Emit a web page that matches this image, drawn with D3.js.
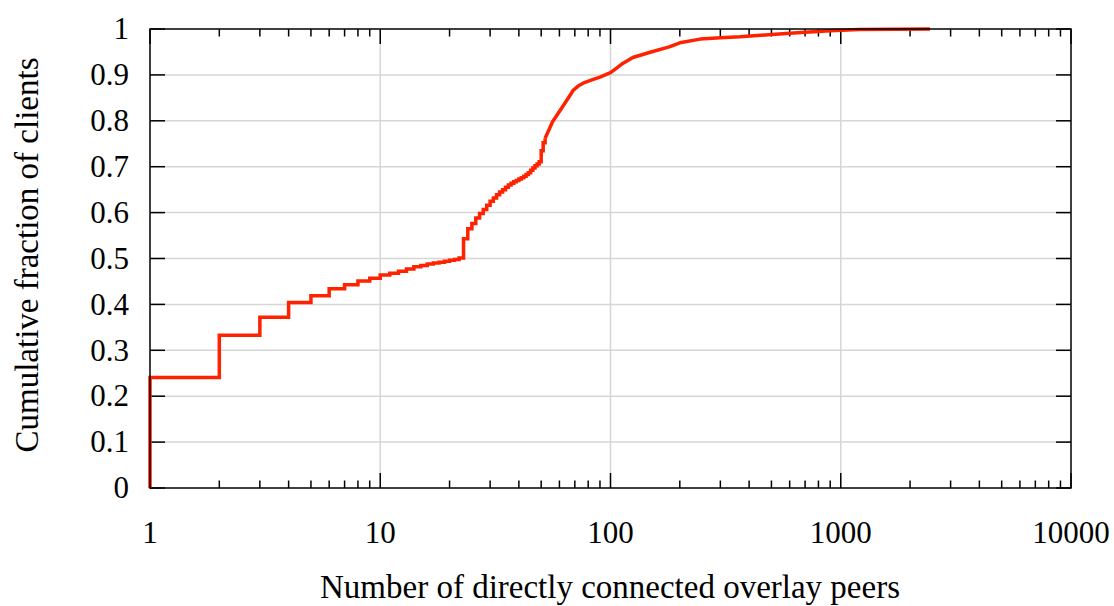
<!DOCTYPE html>
<html><head><meta charset="utf-8">
<script src="https://cdn.jsdelivr.net/npm/d3@7"></script>
<style>body{margin:0;background:#fff}svg{display:block}</style>
</head><body><svg id="c" width="1114" height="606"></svg>
<script>
// Stepped part of the CDF: [peers, cumulative fraction]
const stepData = [
  [1,0],[1,0.241],[2,0.333],[3,0.372],[4,0.404],[5,0.419],[6,0.434],[7,0.443],[8,0.451],[9,0.457],
  [10,0.464],[11,0.468],[12,0.472],[13,0.477],[14,0.482],[15,0.485],[16,0.488],[17,0.490],[18,0.492],
  [19,0.494],[20,0.496],[21,0.498],[22,0.501],[23,0.543],[24,0.565],[25,0.576],[26,0.588],[27,0.598],
  [28,0.607],[29,0.616],[30,0.625],[31,0.632],[32,0.639],[33,0.645],[34,0.650],[35,0.655],[36,0.660],
  [37,0.664],[38,0.667],[39,0.670],[40,0.673],[41,0.676],[42,0.679],[43,0.683],[44,0.687],[45,0.692],
  [46,0.697],[47,0.702],[48,0.706],[49,0.711],[50,0.735],[51,0.752],[52,0.762]
];
// Tail of the CDF (many small steps, appears smooth)
const tailData = [
  [52,0.762],[54,0.780],[56,0.798],[59,0.815],[62,0.831],[66,0.852],[69,0.867],[73,0.877],[76,0.882],
  [83,0.889],[90,0.895],[100,0.905],[107,0.916],[113,0.925],[125,0.938],[150,0.950],[180,0.961],
  [200,0.970],[245,0.978],[300,0.981],[365,0.983],[500,0.988],[700,0.993],[900,0.996],[1200,0.999],[2442,1.0]
];
const xTicks = [1,10,100,1000,10000];
const yTicks = [0,0.1,0.2,0.3,0.4,0.5,0.6,0.7,0.8,0.9,1];
const xLabel = "Number of directly connected overlay peers";
const yLabel = "Cumulative fraction of clients";

const FONT = "Liberation Serif";
const L=150,R=1071,T=29,B=488;
const svg=d3.select("#c");
const x=d3.scaleLog().domain([1,10000]).range([L,R]);
const y=d3.scaleLinear().domain([0,1]).range([B,T]);

const minor=[];
for(let d=1;d<10000;d*=10) for(let k=2;k<=9;k++) minor.push(d*k);

// grid
const g=svg.append("g");
g.selectAll(".gx").data(xTicks.slice(1,-1)).join("line")
  .attr("x1",d=>x(d)).attr("x2",d=>x(d)).attr("y1",T).attr("y2",B)
  .attr("stroke","#d6d6d6").attr("stroke-width",1.5);
g.selectAll(".gy").data(yTicks.slice(1,-1)).join("line")
  .attr("x1",L).attr("x2",R).attr("y1",d=>y(d)).attr("y2",d=>y(d))
  .attr("stroke","#d6d6d6").attr("stroke-width",1.5);

// ticks
const tk=svg.append("g").attr("stroke","#000").attr("stroke-width",1.5);
[[B,-1],[T,1]].forEach(([yy,s])=>{
  tk.selectAll(null).data(xTicks).join("line")
    .attr("x1",d=>x(d)).attr("x2",d=>x(d)).attr("y1",yy).attr("y2",yy+s*15);
  tk.selectAll(null).data(minor).join("line")
    .attr("x1",d=>x(d)).attr("x2",d=>x(d)).attr("y1",yy).attr("y2",yy+s*7.5);
});
[[L,1],[R,-1]].forEach(([xx,s])=>{
  tk.selectAll(null).data(yTicks).join("line")
    .attr("x1",xx).attr("x2",xx+s*15).attr("y1",d=>y(d)).attr("y2",d=>y(d));
});

// data line
svg.append("path").attr("d",d3.line().x(d=>x(d[0])).y(d=>y(d[1])).curve(d3.curveStepAfter)(stepData))
  .attr("fill","none").attr("stroke","#ff2200").attr("stroke-width",3.5).attr("stroke-linejoin","miter");
svg.append("path").attr("d",d3.line().x(d=>x(d[0])).y(d=>y(d[1]))(tailData))
  .attr("fill","none").attr("stroke","#ff2200").attr("stroke-width",3.5).attr("stroke-linejoin","round");

// frame
svg.append("rect").attr("x",L).attr("y",T).attr("width",R-L).attr("height",B-T)
  .attr("fill","none").attr("stroke","#000").attr("stroke-width",1.5);

// tick labels
svg.selectAll(".xl").data(xTicks).join("text")
  .attr("x",d=>x(d)).attr("y",543).attr("text-anchor","middle")
  .attr("font-family",FONT).attr("font-size",31).text(d=>d);
svg.selectAll(".yl").data(yTicks).join("text")
  .attr("x",129).attr("y",d=>y(d)).attr("dy","0.33em").attr("text-anchor","end")
  .attr("font-family",FONT).attr("font-size",31).text(d=>d);

// axis labels
svg.append("text").attr("x",610).attr("y",598).attr("text-anchor","middle")
  .attr("font-family",FONT).attr("font-size",33).text(xLabel);
svg.append("text").attr("transform",`translate(38,255) rotate(-90)`)
  .attr("text-anchor","middle").attr("font-family",FONT).attr("font-size",33).text(yLabel);
</script></body></html>
